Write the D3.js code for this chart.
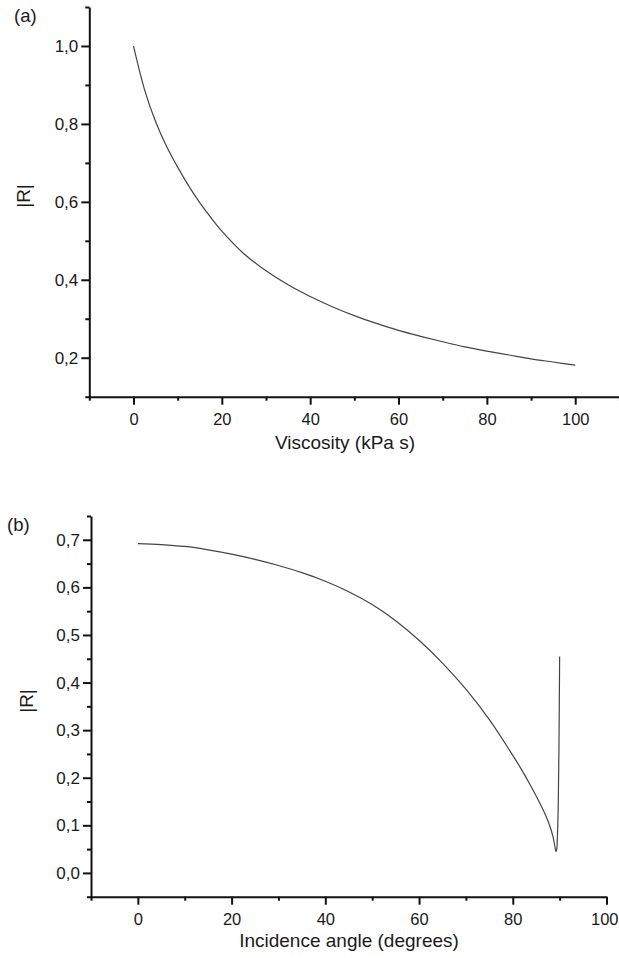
<!DOCTYPE html>
<html>
<head>
<meta charset="utf-8">
<script src="https://cdn.jsdelivr.net/npm/d3@7/dist/d3.min.js"></script>
<style>
  html, body { margin: 0; padding: 0; background: #fff; }
  svg { display: block; }
  text { font-family: "Liberation Sans", Arial, Helvetica, sans-serif; fill: #1a1a1a; }
</style>
</head>
<body>
<svg id="chart" width="619" height="958"></svg>
<script>
// Panel (a): reflection magnitude versus viscosity
const viscosity = [0, 2.5, 5, 7.5, 10, 12.5, 15, 17.5, 20, 25, 30, 35, 40, 45, 50, 55, 60, 65, 70, 75, 80, 85, 90, 95, 100];
const rViscosity = [1.000, 0.888, 0.806, 0.742, 0.689, 0.641, 0.598, 0.560, 0.525, 0.467, 0.423, 0.387, 0.357, 0.331, 0.308, 0.288, 0.270, 0.255, 0.241, 0.228, 0.217, 0.207, 0.197, 0.189, 0.181];

// Panel (b): reflection magnitude versus incidence angle
const angle = [0, 5, 10, 15, 20, 25, 30, 35, 40, 45, 50, 55, 60, 65, 70, 75, 80, 82, 84, 86, 87, 88, 88.6, 89.0, 89.2, 89.35, 89.5, 89.7, 89.85, 90];
const rAngle = [0.692, 0.690, 0.686, 0.679, 0.670, 0.659, 0.646, 0.631, 0.613, 0.591, 0.564, 0.530, 0.489, 0.441, 0.386, 0.322, 0.247, 0.215, 0.180, 0.142, 0.121, 0.096, 0.075, 0.055, 0.045, 0.048, 0.070, 0.140, 0.260, 0.455];

// Axis tick values
const xTicksA = [0, 20, 40, 60, 80, 100];
const xMinorA = [-10, 10, 30, 50, 70, 90, 110];
const yTicksA = [0.2, 0.4, 0.6, 0.8, 1.0];
const yMinorA = [0.1, 0.3, 0.5, 0.7, 0.9, 1.1];

const xTicksB = [0, 20, 40, 60, 80, 100];
const xMinorB = [-10, 10, 30, 50, 70, 90];
const yTicksB = [0.0, 0.1, 0.2, 0.3, 0.4, 0.5, 0.6, 0.7];
const yMinorB = [-0.05, 0.05, 0.15, 0.25, 0.35, 0.45, 0.55, 0.65, 0.75];

const commaFmt = d3.formatLocale({ decimal: ",", thousands: ".", grouping: [3], currency: ["", ""] }).format(".1f");

const W = 619;
const svg = d3.select("#chart");

function panel(cfg) {
  const x = d3.scaleLinear().domain(cfg.xDomain).range([cfg.left, cfg.right]);
  const y = d3.scaleLinear().domain(cfg.yDomain).range([cfg.bottom, cfg.top]);
  const g = svg.append("g");

  // minor ticks
  g.append("g")
    .attr("transform", `translate(0,${cfg.bottom})`)
    .call(d3.axisBottom(x).tickValues(cfg.xMinor).tickSize(4).tickSizeOuter(0).tickFormat(""))
    .call(s => s.select(".domain").remove());
  g.append("g")
    .attr("transform", `translate(${cfg.left},0)`)
    .call(d3.axisLeft(y).tickValues(cfg.yMinor).tickSize(4).tickSizeOuter(0).tickFormat(""))
    .call(s => s.select(".domain").remove());

  // major ticks with labels
  const xa = g.append("g")
    .attr("transform", `translate(0,${cfg.bottom})`)
    .call(d3.axisBottom(x).tickValues(cfg.xTicks).tickSize(8).tickSizeOuter(0).tickPadding(8.5).tickFormat(d3.format("d")));
  const ya = g.append("g")
    .attr("transform", `translate(${cfg.left},0)`)
    .call(d3.axisLeft(y).tickValues(cfg.yTicks).tickSize(8).tickSizeOuter(0).tickPadding(3).tickFormat(commaFmt));

  xa.selectAll("text").style("font-size", "16.5px").attr("fill", "#1a1a1a");
  ya.selectAll("text").style("font-size", "17px").attr("fill", "#1a1a1a");

  // keep a label that would run past the right edge inside the page
  xa.selectAll(".tick text").each(function (d) {
    const t = d3.select(this);
    const half = this.getComputedTextLength() / 2;
    const over = x(d) + half - (W - 1);
    if (over > 0) t.attr("x", -over);
  });

  g.selectAll(".tick line").attr("stroke", "#111").attr("stroke-width", 2);
  g.selectAll(".domain").attr("stroke", "#111").attr("stroke-width", 2);

  // data curve
  const line = d3.line()
    .x((d, i) => x(cfg.xs[i]))
    .y(d => y(d))
    .curve(d3.curveCatmullRom.alpha(0.5));
  g.append("path")
    .datum(cfg.ys)
    .attr("d", line)
    .attr("fill", "none")
    .attr("stroke", "#444")
    .attr("stroke-width", 1.2);

  // axis titles and panel label
  g.append("text")
    .attr("x", cfg.titleX).attr("y", cfg.titleY)
    .attr("text-anchor", "middle")
    .style("font-size", "19px")
    .text(cfg.xTitle);
  g.append("text")
    .attr("transform", `translate(${cfg.yTitleX},${cfg.yTitleY}) rotate(-90)`)
    .attr("text-anchor", "middle")
    .style("font-size", "19px")
    .text("|R|");
  g.append("text")
    .attr("x", cfg.labelX).attr("y", cfg.labelY)
    .style("font-size", "18.5px")
    .text(cfg.label);
}

panel({
  left: 89.3, right: 619.4, top: 7, bottom: 396.7,
  xDomain: [-10, 110], yDomain: [0.1, 1.1],
  xTicks: xTicksA, xMinor: xMinorA, yTicks: yTicksA, yMinor: yMinorA,
  xs: viscosity, ys: rViscosity,
  xTitle: "Viscosity (kPa s)", titleX: 345, titleY: 449,
  yTitleX: 30, yTitleY: 196,
  label: "(a)", labelX: 14, labelY: 22
});

panel({
  left: 91, right: 606.5, top: 516, bottom: 896.7,
  xDomain: [-10, 100], yDomain: [-0.05, 0.75],
  xTicks: xTicksB, xMinor: xMinorB, yTicks: yTicksB, yMinor: yMinorB,
  xs: angle, ys: rAngle,
  xTitle: "Incidence angle (degrees)", titleX: 349, titleY: 947,
  yTitleX: 33, yTitleY: 701,
  label: "(b)", labelX: 7, labelY: 531
});
</script>
</body>
</html>
